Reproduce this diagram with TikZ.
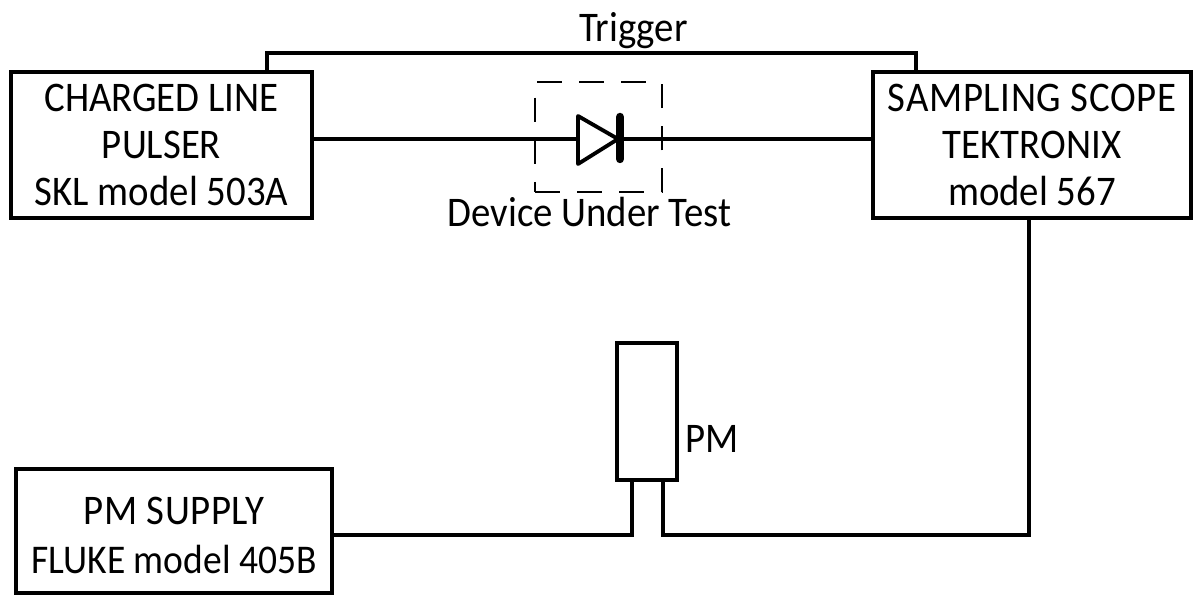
\documentclass[tikz,border=0pt]{standalone}
\usepackage{fontspec}
\setmainfont[FakeStretch=0.92]{Carlito}
\tikzset{
  block/.style={draw,line width=1.15pt,inner sep=0pt,align=center,font=\fontsize{12}{13.3}\selectfont},
  wire/.style={line width=1.4pt},
  lab/.style={inner sep=0pt,font=\fontsize{12}{13}\selectfont}
}
\begin{document}
\begin{tikzpicture}
 \useasboundingbox (0,0) rectangle (11.96,5.95);

 \node[block,minimum width=3.01cm,minimum height=1.46cm] (pulser) at (1.615,4.50) {CHARGED LINE\\PULSER\hspace*{.22cm}\\SKL model 503A};
  \node[block,minimum width=3.18cm,minimum height=1.46cm] (scope) at (10.32,4.50) {{\addfontfeatures{LetterSpace=1.5}SAMPLING SCOPE}\\TEKTRONIX\\model 567};
   \node[block,minimum width=3.16cm,minimum height=1.24cm] (supply) at (1.74,0.64) {\rule{0pt}{10.5pt}{\addfontfeatures{LetterSpace=1.5}PM SUPPLY}\\[0.6pt]{\fontsize{11.6}{13.3}\selectfont FLUKE model 405B}};
    \node[draw,line width=1.15pt,minimum width=0.60cm,minimum height=1.37cm,inner sep=0pt] (pm) at (6.47,1.835) {};
     \node[draw,dashed,line width=0.6pt,dash pattern=on 7pt off 5pt,minimum width=1.27cm,minimum height=1.10cm,inner sep=0pt] (dut) at (5.985,4.58) {};

 \node[lab,anchor=base] (trig) at (6.335,5.53) {Trigger};
 \node[lab,anchor=base east] (dutlab) at (7.32,3.68) {Device Under Test};
 \node[lab,anchor=base west] (pmlab) at (6.85,1.42) {PM};

 \coordinate (tl) at (2.67,5.42);
 \coordinate (tr) at (9.16,5.42);
 \coordinate (da) at (5.78,4.56);
 \coordinate (dk) at (6.18,4.56);
 \coordinate (lg1) at (6.32,0.60);
 \coordinate (lg2) at (6.63,0.60);
 \coordinate (sc) at (10.29,0.60);

 \draw[wire] (pulser.north -| tl) -- (tl) -- (tr) -- (scope.north -| tr);
 \draw[wire] (pulser.east |- da) -- (da);
 \draw[wire] (dk) -- (scope.west |- dk);
 \draw[line width=1.1pt,line join=round] (5.78,4.79) -- (dk) -- (5.78,4.31) -- cycle;
 \draw[line width=2.4pt,line cap=round] (6.20,4.78) -- (6.20,4.36);
 \draw[wire] (supply.east |- lg1) -- (lg1) -- (pm.south -| lg1);
 \draw[wire] (pm.south -| lg2) -- (lg2) -- (sc) -- (scope.south -| sc);

\end{tikzpicture}
\end{document}
